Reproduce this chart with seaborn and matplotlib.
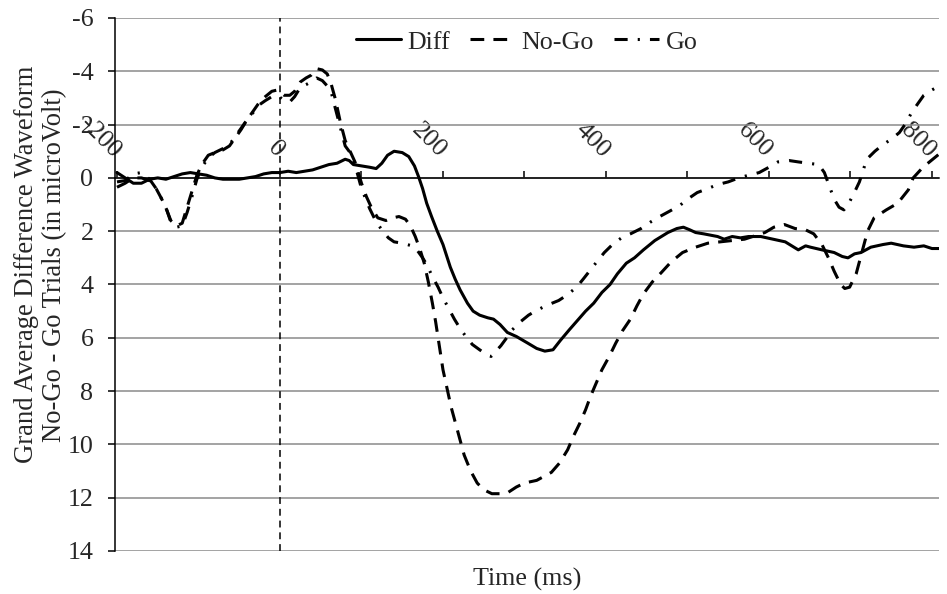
import pandas as pd
import seaborn as sns
import matplotlib.pyplot as plt
from matplotlib.ticker import MultipleLocator

sns.set_style("white")
plt.rcParams["font.family"] = ["Liberation Serif", "DejaVu Serif"]
plt.rcParams["axes.unicode_minus"] = False

# values (time in ms, amplitude in microVolt)
diff_ms = [-200, -190, -180, -170, -160, -150, -140, -130, -120, -110,
           -100, -90, -80, -70, -60, -50, -40, -30, -20, -10,
           0, 10, 20, 30, 40, 50, 60, 70, 80, 85,
           90, 100, 110, 118, 125, 132, 140, 150, 158, 165,
           170, 175, 180, 186, 193, 200, 209, 215, 221, 230,
           237, 245, 255, 262, 270, 279, 290, 304, 315, 325,
           335, 344, 355, 365, 375, 385, 395, 405, 414, 425,
           435, 446, 460, 476, 487, 495, 503, 510, 520, 537,
           545, 555, 565, 575, 590, 605, 620, 636, 645, 651,
           665, 680, 690, 697, 705, 713, 725, 740, 750, 765,
           778, 790, 800, 809]
diff_uv = [-0.2, 0.0, 0.2, 0.2, 0.05, 0.0, 0.05, -0.05, -0.15, -0.2,
           -0.15, -0.1, 0.0, 0.05, 0.05, 0.05, 0.0, -0.05, -0.15, -0.2,
           -0.2, -0.25, -0.2, -0.25, -0.3, -0.4, -0.5, -0.55, -0.7, -0.65,
           -0.5, -0.45, -0.4, -0.35, -0.55, -0.85, -1.0, -0.95, -0.8, -0.45,
           -0.05, 0.4, 0.95, 1.45, 2.0, 2.5, 3.35, 3.8, 4.2, 4.7,
           5.0, 5.15, 5.25, 5.3, 5.5, 5.8, 5.95, 6.2, 6.4, 6.5,
           6.45, 6.1, 5.7, 5.35, 5.0, 4.7, 4.3, 4.0, 3.6, 3.2,
           3.0, 2.7, 2.35, 2.05, 1.9, 1.85, 1.95, 2.05, 2.1, 2.2,
           2.3, 2.2, 2.25, 2.2, 2.2, 2.3, 2.4, 2.7, 2.55, 2.6,
           2.7, 2.8, 2.95, 3.0, 2.85, 2.8, 2.6, 2.5, 2.45, 2.55,
           2.6, 2.55, 2.65, 2.65]

nogo_ms = [-200, -190, -180, -170, -160, -152, -145, -139, -134, -127,
           -120, -114, -108, -102, -96, -88, -80, -70, -62, -55,
           -48, -40, -33, -25, -18, -10, -3, 5, 12, 18,
           25, 32, 38, 45, 52, 58, 63, 68, 74, 80,
           86, 92, 100, 106, 112, 120, 130, 138, 146, 154,
           160, 166, 172, 177, 182, 187, 191, 195, 200, 205,
           210, 218, 226, 234, 242, 250, 260, 270, 280, 290,
           300, 315, 333, 343, 353, 360, 368, 375, 381, 388,
           395, 404, 412, 420, 430, 438, 446, 457, 468, 480,
           494, 510, 525, 540, 555, 570, 585, 595, 606, 619,
           632, 645, 655, 665, 673, 680, 688, 693, 699, 707,
           714, 721, 729, 744, 758, 771, 777, 789, 803, 809]
nogo_uv = [0.35, 0.2, 0.0, 0.0, 0.1, 0.4, 0.8, 1.2, 1.6, 1.8,
           1.7, 1.1, 0.5, -0.1, -0.5, -0.85, -0.95, -1.05, -1.2, -1.5,
           -1.8, -2.2, -2.5, -2.85, -3.05, -3.25, -3.3, -3.1, -3.1, -3.25,
           -3.6, -3.75, -3.85, -4.1, -4.05, -3.9, -3.5, -2.95, -2.1, -1.4,
           -1.0, -0.6, 0.2, 0.7, 1.1, 1.5, 1.6, 1.5, 1.45, 1.55,
           1.8, 2.2, 2.7, 3.2, 3.9, 4.7, 5.4, 6.2, 7.2, 7.9,
           8.6, 9.5, 10.4, 11.0, 11.45, 11.7, 11.85, 11.85, 11.8, 11.6,
           11.45, 11.35, 11.05, 10.7, 10.2, 9.7, 9.2, 8.7, 8.2, 7.7,
           7.2, 6.7, 6.2, 5.75, 5.3, 4.8, 4.35, 3.9, 3.55, 3.15,
           2.8, 2.6, 2.45, 2.4, 2.35, 2.3, 2.15, 2.05, 1.85, 1.75,
           1.9, 1.95, 2.1, 2.5, 3.0, 3.5, 4.0, 4.15, 4.1, 3.6,
           2.8, 2.0, 1.5, 1.2, 0.95, 0.45, 0.0, -0.4, -0.75, -0.9]

go_ms = [-200, -190, -180, -170, -160, -152, -145, -139, -134, -127,
         -120, -114, -108, -102, -96, -88, -80, -70, -62, -55,
         -48, -40, -33, -25, -18, -10, -3, 5, 12, 18,
         25, 32, 38, 45, 52, 58, 63, 68, 74, 80,
         86, 92, 100, 110, 118, 125, 133, 140, 150, 162,
         168, 175, 180, 187, 194, 200, 207, 214, 220, 228,
         236, 245, 252, 259, 265, 271, 277, 285, 295, 305,
         316, 330, 342, 352, 364, 372, 381, 390, 398, 408,
         419, 430, 443, 455, 466, 478, 490, 500, 512, 525,
         537, 550, 563, 575, 588, 600, 611, 625, 636, 648,
         661, 668, 674, 680, 686, 692, 698, 704, 711, 720,
         730, 740, 750, 760, 768, 775, 783, 790, 800, 809]
go_uv = [0.15, 0.1, -0.15, -0.2, 0.05, 0.4, 0.8, 1.2, 1.65, 1.85,
         1.8, 1.3, 0.7, 0.05, -0.4, -0.75, -0.95, -1.1, -1.25, -1.55,
         -1.85, -2.2, -2.45, -2.75, -2.9, -3.05, -3.1, -2.9, -2.85, -3.05,
         -3.4, -3.5, -3.6, -3.75, -3.65, -3.45, -3.2, -2.6, -1.9, -1.2,
         -0.95, -0.5, 0.4, 1.15, 1.65, 1.95, 2.25, 2.4, 2.45, 2.55,
         2.7, 3.0, 3.25, 3.7, 4.1, 4.5, 4.9, 5.3, 5.6, 5.95,
         6.25, 6.45, 6.6, 6.7, 6.5, 6.3, 6.05, 5.7, 5.4, 5.15,
         4.95, 4.75, 4.6, 4.4, 4.1, 3.8, 3.45, 3.1, 2.8, 2.5,
         2.25, 2.1, 1.9, 1.65, 1.45, 1.25, 1.05, 0.8, 0.55, 0.4,
         0.25, 0.15, 0.0, -0.1, -0.2, -0.4, -0.6, -0.65, -0.6, -0.55,
         -0.5, -0.2, 0.3, 0.8, 1.1, 1.2, 0.95, 0.6, 0.15, -0.7,
         -1.0, -1.25, -1.45, -1.7, -2.05, -2.45, -2.8, -3.1, -3.3, -3.45]

conditions = ["Diff", "No-Go", "Go"]

data = pd.concat([
    pd.DataFrame({"ms": diff_ms, "uv": diff_uv, "cond": "Diff"}),
    pd.DataFrame({"ms": nogo_ms, "uv": nogo_uv, "cond": "No-Go"}),
    pd.DataFrame({"ms": go_ms, "uv": go_uv, "cond": "Go"}),
], ignore_index=True)

fs = 18.7

fig = plt.figure(figsize=(9.47, 5.94), dpi=100)
ax = fig.add_axes([0.1214, 0.0724, 0.8701, 0.8973])

sns.lineplot(
    data=data, x="ms", y="uv", style="cond", style_order=conditions,
    dashes={"Diff": "", "No-Go": (4.5, 3), "Go": (4.3, 3.3, 0.7, 3.3)},
    color="black", linewidth=2.2, estimator=None, sort=False,
    legend=False, ax=ax, zorder=3
)
handles = list(ax.lines[:3])

ax.axvline(0, color="black", lw=1.1, ls=(0, (4.5, 3.2)), zorder=2)

ax.set_xlim(-202.5, 808.6)
ax.set_ylim(14, -6)
ax.yaxis.set_major_locator(MultipleLocator(2))
ax.xaxis.set_major_locator(MultipleLocator(200))
ax.xaxis.set_minor_locator(MultipleLocator(100))

# x axis crosses at y = 0, labels sit above it
ax.xaxis.tick_top()
ax.spines["top"].set_position(("data", 0))
ax.spines["bottom"].set_visible(False)
ax.spines["right"].set_visible(False)
for s in ["top", "left"]:
    ax.spines[s].set_color("black")
    ax.spines[s].set_linewidth(1.1)

ax.grid(axis="y", color="#8a8a8a", lw=1.1)
ax.grid(axis="x", visible=False)
ax.set_axisbelow(True)

ax.tick_params(axis="x", which="both", direction="out", length=5, width=1.1,
               color="black", pad=12, labelsize=fs)
ax.tick_params(axis="y", direction="out", length=5, width=1.1, color="black",
               pad=10.5, labelsize=fs, left=True)
plt.setp(ax.get_xticklabels(), rotation=-45, ha="right", va="center",
         rotation_mode="anchor")

ax.set_ylabel("Grand Average Difference Waveform\nNo-Go - Go Trials (in microVolt)",
              fontsize=19.2, linespacing=1.15)
ax.yaxis.set_label_coords(-0.058, 0.537)
ax.xaxis.set_label_position("bottom")
ax.set_xlabel("Time (ms)", fontsize=fs)
ax.xaxis.set_label_coords(0.5, -0.032)

ax.legend(handles, conditions, loc="center", bbox_to_anchor=(0.4994, 0.955),
          ncol=3, frameon=False, handlelength=1.75, handletextpad=0.25,
          columnspacing=0.75, fontsize=fs)

fig.savefig("out.png", dpi=100)
